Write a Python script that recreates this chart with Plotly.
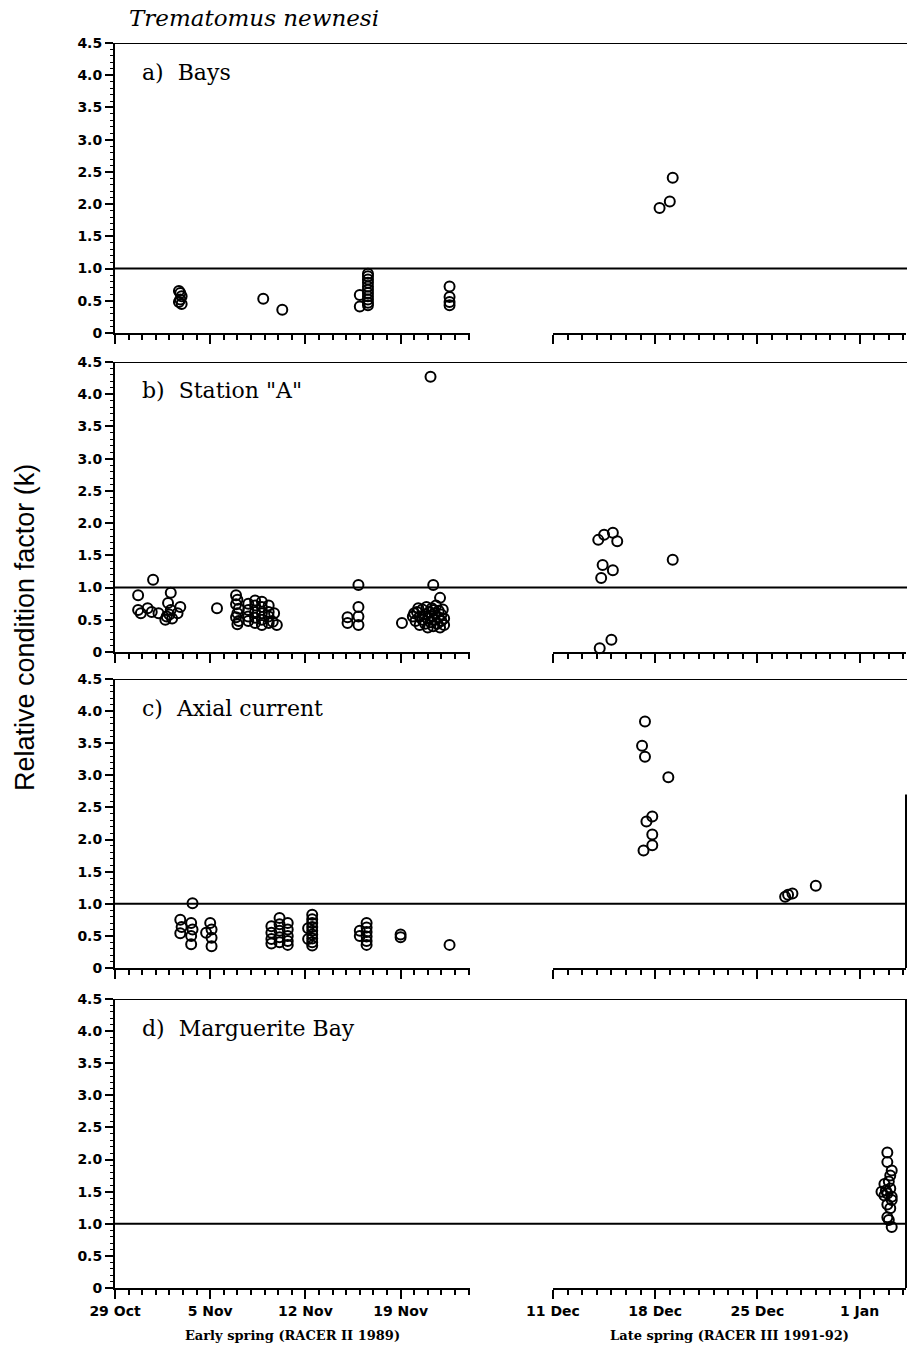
import plotly.graph_objects as go

# ---------------- data (days since start of each cruise; k values) ----------------
# Early spring: day 0 = 29 Oct 1989 ; Late spring: day 0 = 11 Dec 1991
early_tick_days = [0, 7, 14, 21]
early_tick_labels = ["29 Oct", "5 Nov", "12 Nov", "19 Nov"]
late_tick_days = [0, 7, 14, 21]
late_tick_labels = ["11 Dec", "18 Dec", "25 Dec", "1 Jan"]
k_tick_vals = [0, 0.5, 1.0, 1.5, 2.0, 2.5, 3.0, 3.5, 4.0, 4.5]
k_tick_labels = ["0", "0.5", "1.0", "1.5", "2.0", "2.5", "3.0", "3.5", "4.0", "4.5"]

panel_names = ["a)\u00a0 Bays", "b)\u00a0 Station \"A\"", "c)\u00a0 Axial current", "d)\u00a0 Marguerite Bay"]

# a) Bays
a_early_day = [4.7, 4.8, 4.9, 4.8, 4.7, 4.9, 10.9, 12.3,
               18.6, 18.6, 18.6, 18.6, 18.6, 18.6, 18.6, 18.6, 18.6, 18.6, 18.6, 18.0, 18.0,
               24.6, 24.6, 24.6, 24.6]
a_early_k = [0.65, 0.62, 0.57, 0.52, 0.48, 0.45, 0.53, 0.36,
             0.92, 0.88, 0.83, 0.78, 0.72, 0.67, 0.62, 0.57, 0.52, 0.47, 0.43, 0.59, 0.41,
             0.72, 0.56, 0.48, 0.43]
a_late_day = [8.2, 8.0, 7.3]
a_late_k = [2.41, 2.04, 1.94]

# b) Station "A"
b_early_day = [1.7, 2.8, 1.7, 1.9, 2.4, 2.7, 3.2,
               4.1, 3.9, 4.1, 4.0, 4.2, 3.8, 3.7, 4.8, 4.6,
               7.5,
               8.9, 9.0, 8.9, 9.1, 9.0, 8.9, 9.1, 9.0,
               9.8, 9.8, 9.8, 9.8, 10.3, 10.3, 10.3, 10.3, 10.3,
               10.8, 10.8, 10.8, 10.8, 10.8, 11.3, 11.3, 11.3, 11.3, 11.7, 11.9, 11.6,
               17.9, 17.9, 17.9, 17.9, 17.1, 17.1,
               21.1, 23.2, 23.4, 23.9,
               21.9, 22.1, 22.2, 22.4, 22.4, 22.6, 22.6, 22.8, 22.8, 22.9, 23.0, 23.0,
               23.1, 23.2, 23.3, 23.3, 23.4, 23.5, 23.5, 23.6, 23.7, 23.8, 23.8, 23.9,
               24.0, 24.0, 24.1, 24.2, 24.2, 22.3, 22.0, 23.4]
b_early_k = [0.88, 1.12, 0.65, 0.60, 0.68, 0.62, 0.60,
             0.92, 0.76, 0.65, 0.58, 0.52, 0.55, 0.50, 0.70, 0.60,
             0.68,
             0.88, 0.81, 0.74, 0.67, 0.60, 0.54, 0.48, 0.43,
             0.75, 0.65, 0.55, 0.48, 0.80, 0.72, 0.62, 0.53, 0.45,
             0.78, 0.70, 0.60, 0.50, 0.42, 0.72, 0.62, 0.55, 0.45, 0.60, 0.42, 0.47,
             1.04, 0.70, 0.55, 0.42, 0.54, 0.45,
             0.45, 4.27, 1.04, 0.84,
             0.55, 0.48, 0.62, 0.42, 0.55, 0.66, 0.50, 0.44, 0.58, 0.70, 0.38, 0.52,
             0.62, 0.46, 0.56, 0.68, 0.40, 0.50, 0.60, 0.72, 0.44, 0.54, 0.64, 0.38,
             0.48, 0.58, 0.66, 0.52, 0.42, 0.68, 0.60, 0.65]
b_late_day = [3.1, 3.5, 4.1, 4.4, 3.4, 4.1, 3.3, 8.2, 3.2, 4.0]
b_late_k = [1.74, 1.82, 1.85, 1.72, 1.35, 1.27, 1.15, 1.43, 0.06, 0.19]

# c) Axial current
c_early_day = [4.8, 4.8, 4.9, 5.6, 5.7, 5.6, 5.6, 5.7,
               7.0, 7.1, 6.7, 7.1, 7.1,
               11.5, 11.5, 11.5, 11.5, 12.1, 12.1, 12.1, 12.1, 12.1,
               12.7, 12.7, 12.7, 12.7, 12.7,
               14.5, 14.5, 14.5, 14.5, 14.5, 14.5, 14.5, 14.5, 14.5, 14.2, 14.2,
               18.5, 18.5, 18.5, 18.5, 18.5, 18.5, 18.0, 18.0,
               21.0, 21.0, 24.6]
c_early_k = [0.75, 0.54, 0.64, 0.70, 0.60, 0.50, 0.37, 1.01,
             0.70, 0.60, 0.55, 0.47, 0.34,
             0.65, 0.55, 0.45, 0.38, 0.78, 0.68, 0.58, 0.48, 0.40,
             0.70, 0.60, 0.50, 0.42, 0.36,
             0.83, 0.76, 0.70, 0.64, 0.58, 0.52, 0.46, 0.40, 0.35, 0.62, 0.45,
             0.70, 0.63, 0.56, 0.49, 0.42, 0.36, 0.58, 0.50,
             0.52, 0.48, 0.36]
c_late_day = [6.3, 6.1, 6.3, 7.9, 6.8, 6.4, 6.8, 6.8, 6.2, 15.9, 16.4, 16.1, 18.0]
c_late_k = [3.84, 3.46, 3.29, 2.97, 2.36, 2.28, 2.08, 1.91, 1.83, 1.11, 1.16, 1.14, 1.28]

# d) Marguerite Bay
d_early_day = []
d_early_k = []
d_late_day = [22.9, 22.9, 23.2, 22.7, 23.0, 22.5, 22.8, 23.1, 22.7, 23.2, 23.1, 22.9,
              23.2, 22.9, 23.1, 22.9, 23.0, 23.2]
d_late_k = [2.11, 1.96, 1.83, 1.62, 1.66, 1.50, 1.52, 1.55, 1.44, 1.42, 1.75, 1.47,
            1.37, 1.30, 1.24, 1.10, 1.06, 0.95]

early_days = [a_early_day, b_early_day, c_early_day, d_early_day]
early_k = [a_early_k, b_early_k, c_early_k, d_early_k]
late_days = [a_late_day, b_late_day, c_late_day, d_late_day]
late_k = [a_late_k, b_late_k, c_late_k, d_late_k]

# ---------------- layout geometry ----------------
W, H = 907, 1351
panel_px = [(43, 333), (362, 652), (679, 968), (999, 1288)]  # (top, bottom) pixels
XL0, XL1 = 115, 470     # early-spring axis pixels
XR0, XR1 = 553, 906     # late-spring axis pixels
early_range = [0, (XL1 - XL0) / 13.6]
late_range = [0, (XR1 - XR0) / 14.6]

sans_bold = dict(family="DejaVu Sans", size=14, color="black", weight="bold")

fig = go.Figure()
layout = dict(
    width=W, height=H, margin=dict(l=0, r=0, t=0, b=0, pad=0, autoexpand=False),
    paper_bgcolor="white", plot_bgcolor="white", showlegend=False,
)
shapes = []
annotations = []

marker = dict(symbol="circle-open", size=10, color="black", line=dict(width=2, color="black"))

for i in range(4):
    n = i + 1
    top, bot = panel_px[i]
    ydom = [1 - bot / H, 1 - top / H]
    xl, xr = 2 * i + 1, 2 * i + 2
    xl_name = "x" if xl == 1 else f"x{xl}"
    yname = "y" if n == 1 else f"y{n}"
    last = (i == 3)

    fig.add_trace(go.Scatter(x=early_days[i], y=early_k[i], mode="markers", marker=marker,
                             xaxis=xl_name, yaxis=yname, cliponaxis=False, hoverinfo="skip"))
    fig.add_trace(go.Scatter(x=late_days[i], y=late_k[i], mode="markers", marker=marker,
                             xaxis=f"x{xr}", yaxis=yname, cliponaxis=False, hoverinfo="skip"))

    common_x = dict(showgrid=False, zeroline=False, showline=True, linecolor="black", linewidth=2,
                    ticks="outside", ticklen=9, tickwidth=2, tickcolor="black", automargin=False,
                    minor=dict(dtick=1, tick0=0, ticks="outside", ticklen=5, tickwidth=1.5, tickcolor="black"),
                    tickfont=dict(family="DejaVu Sans", size=14, color="black", weight="bold"),
                    showticklabels=last, fixedrange=True)
    title_font = dict(family="DejaVu Serif", size=13, color="black", weight="bold")
    layout["xaxis" if xl == 1 else f"xaxis{xl}"] = dict(
        common_x, domain=[XL0 / W, XL1 / W], range=early_range, anchor=yname,
        tickvals=early_tick_days, ticktext=early_tick_labels,
        title=dict(text="Early spring (RACER II 1989)" if last else "", font=title_font, standoff=13))
    layout[f"xaxis{xr}"] = dict(
        common_x, domain=[XR0 / W, XR1 / W], range=late_range, anchor=yname,
        tickvals=late_tick_days, ticktext=late_tick_labels,
        title=dict(text="Late spring (RACER III 1991-92)" if last else "", font=title_font, standoff=13))
    layout["yaxis" if n == 1 else f"yaxis{n}"] = dict(
        domain=ydom, range=[0, 4.5], anchor=xl_name, showgrid=False, zeroline=False,
        showline=True, linecolor="black", linewidth=2, automargin=False,
        tickvals=k_tick_vals, ticktext=k_tick_labels,
        ticks="outside", ticklen=8, tickwidth=2, tickcolor="black",
        minor=dict(dtick=0.1, tick0=0, ticks="outside", ticklen=3, tickwidth=1, tickcolor="black"),
        tickfont=sans_bold, fixedrange=True)

    # reference line k = 1 and top frame
    shapes.append(dict(type="line", xref="paper", yref=yname, x0=XL0 / W, x1=1.0, y0=1, y1=1,
                       line=dict(color="black", width=2)))
    shapes.append(dict(type="line", xref="paper", yref=yname, x0=XL0 / W, x1=1.0, y0=4.5, y1=4.5,
                       line=dict(color="black", width=2)))
    annotations.append(dict(text=panel_names[i], xref="paper", yref="paper",
                            x=140 / W, y=1 - (top + 29) / H, xanchor="left", yanchor="middle",
                            showarrow=False, font=dict(family="DejaVu Serif", size=22, color="black")))

# right frame edges visible in panels c and d
shapes.append(dict(type="line", xref="paper", yref="y3", x0=XR1 / W, x1=XR1 / W, y0=0, y1=2.7,
                   line=dict(color="black", width=2)))
shapes.append(dict(type="line", xref="paper", yref="y4", x0=XR1 / W, x1=XR1 / W, y0=0, y1=4.5,
                   line=dict(color="black", width=2)))

annotations.append(dict(text="<i>Trematomus newnesi</i>", xref="paper", yref="paper",
                        x=127 / W, y=1 - 18 / H, xanchor="left", yanchor="middle", showarrow=False,
                        font=dict(family="DejaVu Serif", size=23, color="black")))
annotations.append(dict(text="Relative condition factor (k)", xref="paper", yref="paper",
                        x=25 / W, y=1 - 628 / H, xanchor="center", yanchor="middle", textangle=-90,
                        showarrow=False, font=dict(family="Arial", size=27, color="black")))

layout["shapes"] = shapes
layout["annotations"] = annotations
fig.update_layout(**layout)
fig.write_html("out.html")
